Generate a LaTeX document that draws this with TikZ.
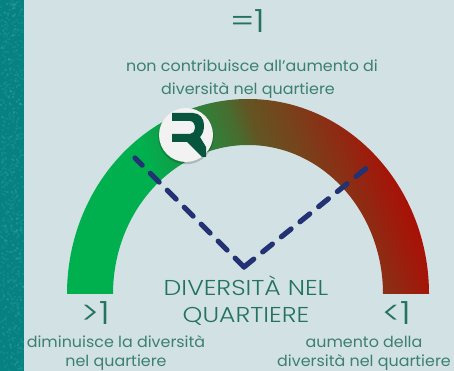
\documentclass[tikz,border=0pt]{standalone}
\usepackage{fontspec}
\setmainfont{Poppins}
\newfontfamily\lightf[FakeStretch=1.17]{Poppins Light}
\newfontfamily\symf[FakeStretch=1.13]{Poppins Light}
\newfontfamily\smallf[FakeStretch=1.04]{Poppins}
\usetikzlibrary{shapes.geometric}
\definecolor{bgc}{RGB}{210,225,228}
\definecolor{bandc}{RGB}{6,130,130}
\definecolor{txtc}{RGB}{60,128,112}
\definecolor{bigc}{RGB}{36,115,96}
\definecolor{dashc}{RGB}{35,50,115}
\definecolor{logoc}{RGB}{6,85,60}
\pgfdeclarehorizontalshading{gauge}{100bp}{
 rgb(0bp)=(0,0.69,0.31);
 rgb(37bp)=(0,0.69,0.31);
 rgb(45bp)=(0.137,0.55,0.255);
 rgb(51.6bp)=(0.275,0.43,0.188);
 rgb(54.7bp)=(0.39,0.333,0.137);
 rgb(60bp)=(0.463,0.267,0.11);
 rgb(66bp)=(0.55,0.176,0.078);
 rgb(71bp)=(0.63,0.098,0.04);
 rgb(75bp)=(0.675,0.047,0.012);
 rgb(100bp)=(0.675,0.047,0.012)}
\tikzset{
 small/.style={text=txtc,font=\smallf\fontsize{15.3}{15.3}\selectfont,anchor=base,inner sep=0pt},
 big/.style={text=bigc,font=\lightf\fontsize{21.5}{21.5}\selectfont,anchor=base,inner sep=0pt},
 sym/.style={text=bigc,font=\symf\fontsize{32}{32}\selectfont,anchor=base,inner sep=0pt},
 needle/.style={draw=dashc,line width=5.2pt,line cap=round,dash pattern=on 12.5pt off 11.5pt}
}
\begin{document}
\begin{tikzpicture}[x=1pt,y=1pt]
\useasboundingbox (0,0) rectangle (454,371);
\fill[bgc] (0,0) rectangle (454,371);
\fill[bandc] (0,0) rectangle (24,371);
\pgfmathsetseed{7}
\foreach \i in {1,...,700}{
  \pgfmathsetmacro{\px}{rnd*22}
  \pgfmathsetmacro{\py}{rnd*369}
  \pgfmathsetmacro{\pc}{rnd>0.5 ? 1 : 0}
  \ifnum\pdfstrcmp{\pc}{1.0}=0\relax
    \fill[black,opacity=.07] (\px,\py) rectangle ++(2,2);
  \else
    \fill[white,opacity=.05] (\px,\py) rectangle ++(2,2);
  \fi
}
% gauge
\shade[shading=gauge,shading angle=20] (67,77) arc[start angle=180,end angle=0,x radius=181pt,y radius=195pt]
  -- (383,77) arc[start angle=0,end angle=180,x radius=135pt,y radius=149pt] -- cycle;
% needle
\coordinate (v) at (244,104);
\coordinate (l) at (135,213);
\coordinate (r) at (369,205);
\draw[needle] (v) -- (l);
\draw[needle] (v) -- (r);
% logo
\fill[black,opacity=.18] (186,234.5) circle (27.8pt);
\node[circle,fill=white!95!black,minimum size=54pt,inner sep=0pt] (logo) at (186,236) {};
\fill[logoc] (172,258) -- (193,258) .. controls (200,258) and (204,252) .. (204,246)
  .. controls (204,241) and (203,237) .. (200,234) -- (206,224) -- (206,214) -- (202,214)
  -- (187,229) -- (172,229) -- (172,237) -- (190,237)
  .. controls (193,237) and (195,240) .. (195,243) .. controls (195,247) and (193,250) .. (190,250)
  -- (172,250) -- cycle;
% texts
\node[sym] (eq) at (248,338) {=1};
\node[small] (t1) at (252,299) {non contribuisce all’aumento di};
\node[small] (t2) at (248,276) {diversità nel quartiere};
\node[big] (d1) at (246,75) {DIVERSITÀ NEL};
\node[big] (d2) at (246,48) {QUARTIERE};
\node[sym] (gt) at (96,46) {>1};
\node[sym] (lt) at (397,46) {<1};
\node[small] (a1) at (116,23) {diminuisce la diversità};
\node[small] (a2) at (116,4.5) {nel quartiere};
\node[small] (b1) at (364,23) {aumento della};
\node[small] (b2) at (364,4.5) {diversità nel quartiere};
\end{tikzpicture}
\end{document}
